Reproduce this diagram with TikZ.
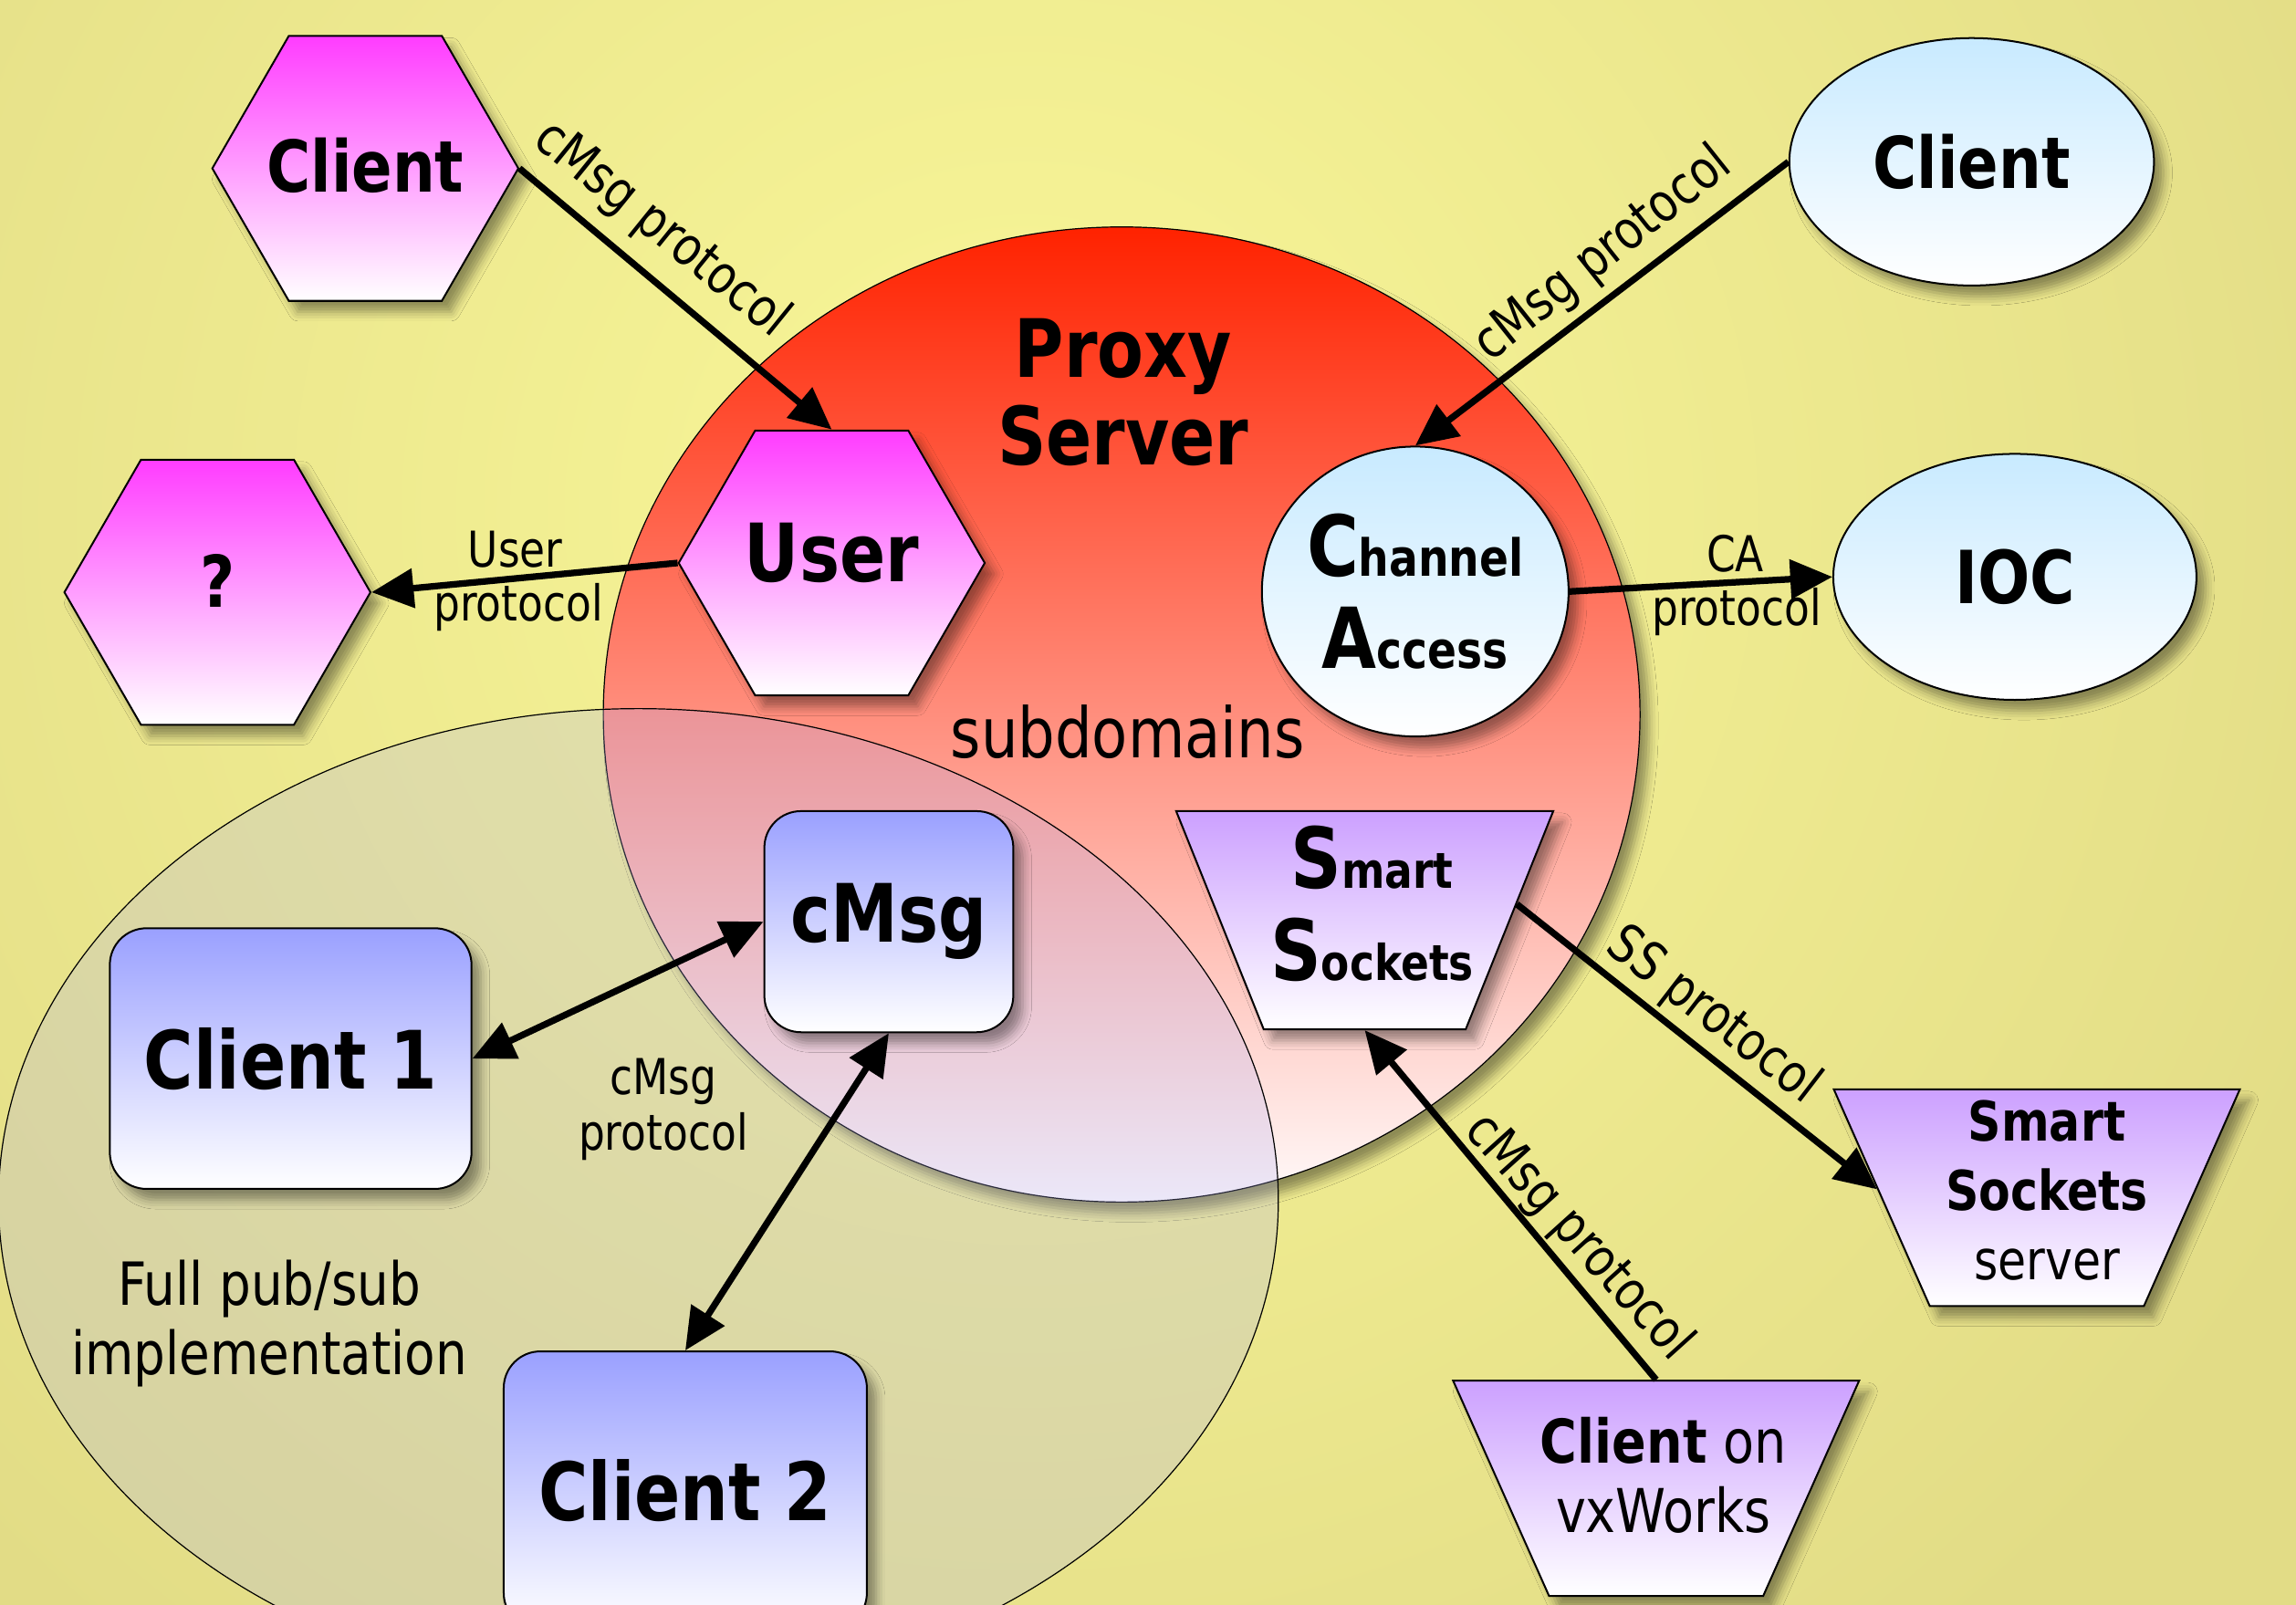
\documentclass[tikz,border=0pt]{standalone}
\usepackage{fontspec}
\setmainfont{DejaVu Sans}[FakeStretch=0.84]
\usetikzlibrary{shapes.geometric,arrows.meta,shadows.blur}

\definecolor{bglight}{RGB}{249,247,152}
\definecolor{bgdark}{RGB}{226,220,134}
\definecolor{magtop}{RGB}{255,60,255}
\definecolor{bluetop}{RGB}{200,234,255}
\definecolor{violtop}{RGB}{154,160,255}
\definecolor{purptop}{RGB}{204,160,255}
\definecolor{redtop}{RGB}{255,34,0}
\definecolor{redmid}{RGB}{255,180,175}
\definecolor{redbot}{RGB}{255,250,250}
\definecolor{overlay}{RGB}{173,174,245}

\newcommand{\fsz}[2]{\fontsize{#1}{#2}\selectfont}
\newcommand{\hextext}[2]{\raisebox{#1}[0pt][0pt]{\makebox[0pt][c]{#2}}}

\begin{document}
\begin{tikzpicture}[x=0.8pt,y=-0.8pt,
  shadowed/.style={blur shadow={shadow xshift=5pt,shadow yshift=-6pt,shadow blur radius=5pt,shadow opacity=40}},
  hexa/.style={regular polygon, regular polygon sides=6, minimum size=167.2pt, inner sep=0pt,
    draw=black, line width=1pt, top color=magtop, bottom color=white, shadowed, font=\bfseries\fsz{39}{44}},
  oval/.style={ellipse, draw=black, line width=1pt, top color=bluetop, bottom color=white,
    shadowed, inner sep=0pt, align=center, font=\bfseries\fsz{39}{44}},
  rbox/.style={rectangle, rounded corners=20pt, draw=black, line width=1pt, top color=violtop,
    bottom color=white, shadowed, inner sep=0pt, font=\bfseries\fsz{44}{50}},
  trap/.style={trapezium, trapezium stretches=true, shape border rotate=180, draw=black,
    line width=1pt, top color=purptop, bottom color=white, shadowed, inner sep=0pt, font=\fsz{20}{20}},
  arr/.style={line width=3.6pt, -{Triangle[length=23pt,width=21pt]}},
  darr/.style={line width=3.6pt, {Triangle[length=23pt,width=21pt]}-{Triangle[length=23pt,width=21pt]}},
  lbl/.style={font=\fsz{27}{31}, align=center, inner sep=0pt},
  rlbl/.style={font=\fsz{29}{31}, inner sep=0pt},
  plain/.style={align=center, inner sep=0pt},
]
\useasboundingbox (0,0) rectangle (1568,1096);
\clip (0,0) rectangle (1568,1096);

% background
\fill[bgdark] (0,0) rectangle (1568,1096);
\shade[inner color=bglight, outer color=bgdark] (700,350) circle[radius=800pt];

% proxy server domain
\node[ellipse, draw=black, line width=0.6pt, minimum width=566.4pt, minimum height=532.8pt,
  top color=redtop, middle color=redmid, bottom color=redbot, shadowed] (proxy) at (766,488) {};
\node[plain, font=\bfseries\fsz{44}{48}] (proxylbl) at (767,268) {Proxy\\Server};
\node[plain, font=\fsz{38}{44}] (subdom) at (770,500) {subdomains};

% pub/sub domain
\node[ellipse, draw=black, line width=0.6pt, minimum width=699.2pt, minimum height=537.6pt,
  fill=overlay, fill opacity=0.24] (pubsub) at (436,820) {};
\node[plain, font=\fsz{32.5}{38}] (pslbl) at (184,904) {Full pub/sub\\implementation};

% hexagons
\node[hexa] (tlc) at (249.5,115) {\hextext{-12.8pt}{Client}};
\node[hexa] (q) at (148.5,404.5) {\hextext{-8.4pt}{?}};
\node[hexa, font=\bfseries\fsz{44}{48}] (user) at (568,384.5) {\hextext{-10pt}{User}};

% ellipses
\node[oval, minimum width=167.2pt, minimum height=158.4pt, font=\bfseries\fsz{28}{50}] (ca) at (966.5,404)
  {{\fsz{46}{50}C}hannel\\{\fsz{46}{50}A}ccess};
\node[oval, minimum width=199.2pt, minimum height=135.2pt] (trc) at (1346.5,110.5) {Client};
\node[oval, minimum width=198.4pt, minimum height=134.4pt, font=\bfseries\fsz{40}{44}] (ioc) at (1376,394) {IOC};

% rounded boxes
\node[rbox, minimum width=136pt, minimum height=120.8pt] (cmsg) at (607,629.5) {cMsg};
\node[rbox, minimum width=197.6pt, minimum height=142.4pt] (c1) at (198.5,723) {Client 1};
\node[rbox, minimum width=198.4pt, minimum height=152pt] (c2) at (468,1018) {Client 2};

% trapezia
\node[trap, minimum width=206.4pt, minimum height=119.2pt, trapezium angle=66.7,
  label={[plain, font=\bfseries\fsz{27}{50}, xshift=4pt, yshift=9pt]center:{{\fsz{46}{50}S}mart\\{\fsz{46}{50}S}ockets}}]
  (ss) at (932,628.5) {\phantom{M}};
\node[trap, minimum width=222.4pt, minimum height=118.4pt, trapezium angle=66,
  label={[plain, font=\fsz{30}{38}, xshift=5.5pt, yshift=4pt]center:{\textbf{Smart}\\\textbf{Sockets}\\server}}]
  (sss) at (1391,818) {\phantom{M}};
\node[trap, minimum width=222.4pt, minimum height=117.6pt, trapezium angle=66,
  label={[plain, font=\fsz{33}{38}, xshift=4pt, yshift=7pt]center:{\textbf{Client} on\\vxWorks}}]
  (vx) at (1131,1016.5) {\phantom{M}};

% connectors
\draw[arr] (tlc.east) -- (user.north);
\draw[arr] (trc.west) -- (ca.north);
\draw[arr] (user.west) -- (q.east);
\draw[arr] (ca.east) -- (ioc.west);
\draw[darr] (c1.east) -- (cmsg.west);
\draw[darr] (cmsg.south) -- (c2.north);
\draw[arr] (ss.6) -- (sss.177);
\draw[arr] (vx.90) -- (ss.270);

% connector labels
\node[rlbl, rotate=-39] (l1) at (452,157) {cMsg protocol};
\node[rlbl, rotate=38.5] (l2) at (1095,174) {cMsg protocol};
\node[lbl] (l3a) at (352,375.5) {User};
\node[lbl] (l3b) at (354,415) {protocol};
\node[lbl] (l4a) at (1185,378) {CA};
\node[lbl] (l4b) at (1186,418) {protocol};
\node[lbl] (l5a) at (453,739) {cMsg};
\node[lbl] (l5b) at (453,776) {protocol};
\node[rlbl, rotate=-37.6] (l6) at (1170,694) {SS protocol};
\node[rlbl, rotate=-48] (l7) at (1078,845) {cMsg protocol};
\end{tikzpicture}
\end{document}
